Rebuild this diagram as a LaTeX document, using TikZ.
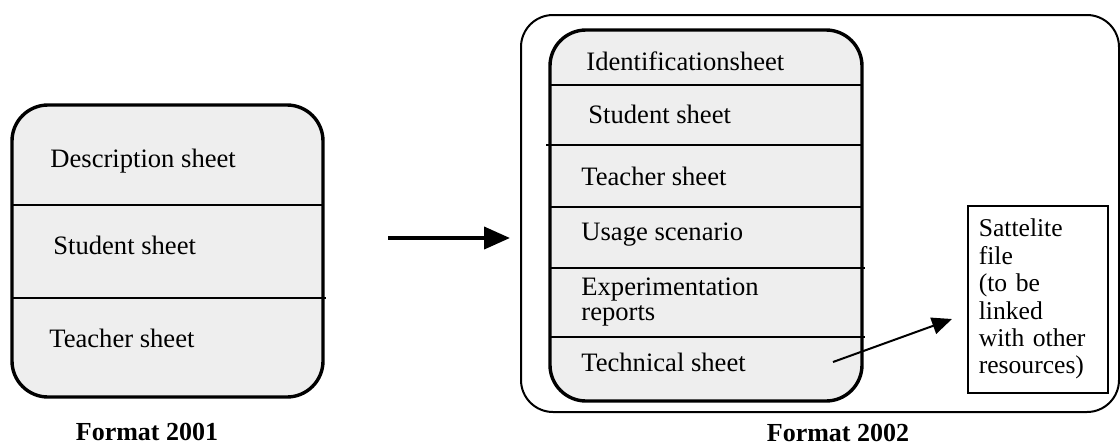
\documentclass[tikz,border=0pt]{standalone}
\usepackage{fontspec}
\setmainfont{Liberation Serif}
\usetikzlibrary{arrows.meta}
\definecolor{SheetGrey}{HTML}{EEEEEE}

\begin{document}
\begin{tikzpicture}[x=0.5pt, y=-0.5pt,
        sheetbox/.style={draw, line width=1.7pt, fill=SheetGrey, rounded corners=18pt},
        divider/.style={line width=1pt},
        sheetlabel/.style={anchor=base west, inner sep=0pt, font=\fontsize{13.3}{12.8}\selectfont},
        caption/.style={anchor=center, font=\fontsize{13}{14}\selectfont\bfseries}]
        \useasboundingbox (0,0) rectangle (1120,446);

        % Format 2001
        \draw[sheetbox] (12,105) rectangle (323,397);
        \draw[divider] (12,205) -- (323,205);
        \draw[divider] (12,298) -- (326,298);
        \node[sheetlabel] (desc) at (50,167) {Description sheet};
        \node[sheetlabel] (stud-old) at (53,254) {Student sheet};
        \node[sheetlabel] (teach-old) at (49,347) {Teacher sheet};
        \node[caption] (fmt-old) at (147,432) {Format 2001};

        % Move to the new format
        \coordinate (fwd-from) at (388,238);
        \coordinate (fwd-to) at (510,238);
        \draw[line width=2pt, -{Triangle[length=13pt, width=11pt]}] (fwd-from) -- (fwd-to);

        % Format 2002
        \draw[line width=1pt, rounded corners=16pt] (521,15) rectangle (1119,412);
        \draw[sheetbox] (550,30) rectangle (862,401);
        \draw[divider] (550,85) -- (862,85);
        \draw[divider] (546,145) -- (862,145);
        \draw[divider] (550,207) -- (862,207);
        \draw[divider] (550,268) -- (865,268);
        \draw[divider] (550,337) -- (865,337);
        \node[sheetlabel] (ident) at (586,70) {Identificationsheet};
        \node[sheetlabel] (stud-new) at (588,123) {Student sheet};
        \node[sheetlabel] (teach-new) at (581,185) {Teacher sheet};
        \node[sheetlabel] (usage) at (581,240) {Usage scenario};
        \node[sheetlabel, anchor=west, align=left] (exper) at (581,302) {Experimentation\\reports};
        \node[sheetlabel] (tech) at (581,371) {Technical sheet};
        \node[caption] (fmt-new) at (838,433) {Format 2002};

        % Sattelite file
        \node[draw, line width=0.8pt, anchor=north west, text width=59pt, minimum height=93.5pt,
            inner xsep=5.5pt, align=left, font=\fontsize{12.8}{13.7}\selectfont] (sat) at (967,205)
            {Sattelite\\file\\(to be\\linked\\with other\\resources)};
        \coordinate (link-from) at (833,362);
        \coordinate (link-to) at (952,319);
        \draw[line width=1pt, -{Triangle[length=10pt, width=8.5pt]}] (link-from) -- (link-to);
    \end{tikzpicture}
\end{document}
